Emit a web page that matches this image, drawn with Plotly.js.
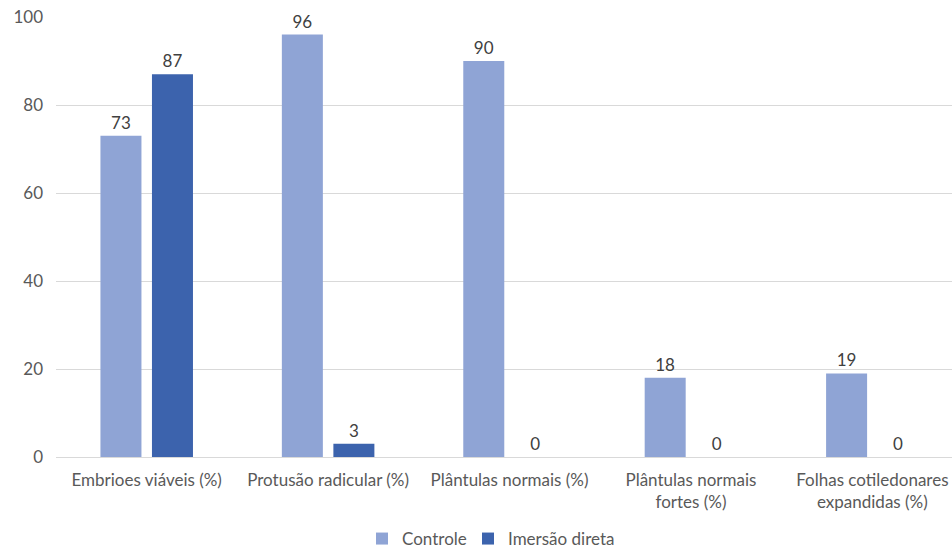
<!DOCTYPE html>
<html>
<head>
<meta charset="utf-8">
<script src="https://cdn.plot.ly/plotly-3.0.1.min.js"></script>
<style>
  html, body { margin: 0; padding: 0; background: #fff; }
  #chart { width: 952px; height: 550px; }
</style>
</head>
<body>
<div id="chart"></div>
<script>
// Categories (x axis) and the two treatment series
const categories = [
  "Embrioes viáveis (%)",
  "Protusão radicular (%)",
  "Plântulas normais (%)",
  "Plântulas normais<br>fortes (%)",
  "Folhas cotiledonares<br>expandidas (%)"
];
const controle = [73, 96, 90, 18, 19];
const imersaoDireta = [87, 3, 0, 0, 0];
const yTicks = [0, 20, 40, 60, 80, 100];

const fontFamily = "Lato, 'Open Sans', 'Liberation Sans', sans-serif";

function series(name, values, color, legendId) {
  return {
    type: "bar",
    name: name,
    legend: legendId,
    x: categories,
    y: values,
    marker: { color: color },
    text: values.map(String),
    textposition: "outside",
    cliponaxis: false,
    textfont: { family: fontFamily, size: 17, color: "#404040" },
    hoverinfo: "x+y+name"
  };
}

const data = [
  series("Controle", controle, "#8FA4D5", "legend"),
  series("Imersão direta", imersaoDireta, "#3C63AD", "legend2")
];

// Each series gets its own legend box so the two entries sit close together
const legendBase = {
  orientation: "h",
  yref: "container",
  y: 0.02,
  yanchor: "middle",
  xanchor: "left",
  font: { family: fontFamily, size: 17, color: "#595959" },
  itemwidth: 30,
  bgcolor: "rgba(0,0,0,0)"
};

const layout = {
  width: 952,
  height: 550,
  margin: { l: 56, r: 0, t: 17, b: 93, autoexpand: false },
  paper_bgcolor: "#ffffff",
  plot_bgcolor: "#ffffff",
  barmode: "group",
  bargap: 0.432,
  bargroupgap: 0.204,
  font: { family: fontFamily, size: 17, color: "#595959" },
  xaxis: {
    type: "category",
    range: [-0.5, 4.439],
    automargin: false,
    showgrid: false,
    showline: false,
    zeroline: false,
    ticks: "",
    tickfont: { family: fontFamily, size: 17, color: "#595959" },
    ticklabelstandoff: 11
  },
  yaxis: {
    range: [0, 100],
    automargin: false,
    tickvals: yTicks,
    ticktext: yTicks.map(String),
    showgrid: true,
    gridcolor: "#D9D9D9",
    gridwidth: 1,
    zeroline: true,
    zerolinecolor: "#D9D9D9",
    zerolinewidth: 1,
    showline: false,
    ticks: "",
    ticklabelstandoff: 12,
    tickfont: { family: fontFamily, size: 17, color: "#595959" }
  },
  showlegend: true,
  legend: Object.assign({}, legendBase, { x: (362 - 56) / 896 }),
  legend2: Object.assign({}, legendBase, { x: (468 - 56) / 896 })
};

Plotly.newPlot("chart", data, layout, { displayModeBar: false, staticPlot: true });
</script>
</body>
</html>
